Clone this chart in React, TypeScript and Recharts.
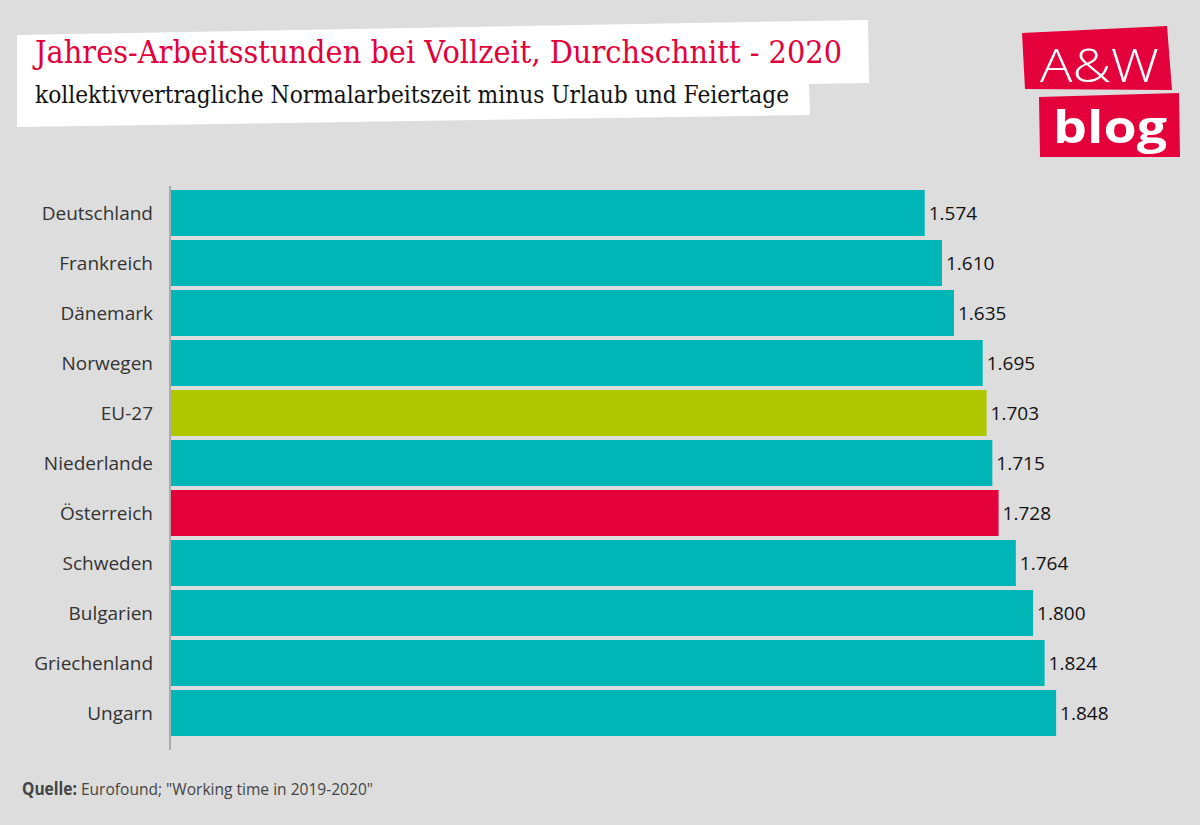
import { BarChart, Bar, XAxis, YAxis, Cell, LabelList } from 'recharts';

const countries = [
  'Deutschland',
  'Frankreich',
  'Dänemark',
  'Norwegen',
  'EU-27',
  'Niederlande',
  'Österreich',
  'Schweden',
  'Bulgarien',
  'Griechenland',
  'Ungarn',
];
const hours = [1574, 1610, 1635, 1695, 1703, 1715, 1728, 1764, 1800, 1824, 1848];
const highlight: Record<string, string> = { 'EU-27': '#adc700', 'Österreich': '#e4003b' };

const TEAL = '#00b6b6';
const RED = '#e4003b';
const BG = '#dddddd';

const title = 'Jahres-Arbeitsstunden bei Vollzeit, Durchschnitt - 2020';
const subtitle = 'kollektivvertragliche Normalarbeitszeit minus Urlaub und Feiertage';

const data = countries.map((name, i) => ({ name, value: hours[i] }));

// German thousands separator
const fmt = (v: number) => {
  const s = String(v);
  return s.length > 3 ? s.slice(0, s.length - 3) + '.' + s.slice(-3) : s;
};

export default function App() {
  return (
    <div style={{ position: 'absolute', left: 0, top: 0, width: 1200, height: 825, background: BG, overflow: 'hidden' }}>
      <BarChart
        width={1200}
        height={825}
        data={data}
        layout="vertical"
        margin={{ top: 186, right: 71, bottom: 75, left: 0 }}
        barCategoryGap={2}
      >
        <XAxis type="number" domain={[0, 2000]} hide />
        <YAxis
          type="category"
          dataKey="name"
          width={170}
          padding={{ top: 2, bottom: 12 }}
          axisLine={{ stroke: '#ababab', strokeWidth: 2 }}
          tickLine={false}
          tickSize={6}
          tickMargin={11}
          interval={0}
          tick={{ fill: '#333', fontSize: 19, fontFamily: 'Open Sans' }}
        />
        <Bar dataKey="value" isAnimationActive={false} barSize={46}>
          {data.map((d) => (
            <Cell key={d.name} fill={highlight[d.name] || TEAL} />
          ))}
          <LabelList
            dataKey="value"
            position="right"
            offset={4}
            formatter={(v: number) => fmt(v)}
            style={{ fill: '#111', fontSize: 19, fontFamily: 'Open Sans' }}
          />
        </Bar>
      </BarChart>

      <svg width={1200} height={825} style={{ position: 'absolute', left: 0, top: 0, pointerEvents: 'none' }}>
        {/* title box */}
        <polygon points="17,35 868,20 869,83 809,84 810,115 17,127" fill="#fff" />
        <text x={35} y={63} fill={RED} fontSize={32} fontFamily="DejaVu Serif" textLength={807} lengthAdjust="spacingAndGlyphs">
          {title}
        </text>
        <text x={35} y={103} fill="#111" fontSize={24} fontFamily="DejaVu Serif" textLength={754} lengthAdjust="spacingAndGlyphs">
          {subtitle}
        </text>

        {/* logo */}
        <polygon points="1022,33 1167,26 1172,90 1025,89" fill={RED} />
        <polygon points="1039,97 1179,93 1180,157 1040,157" fill={RED} />
        <text x={1040} y={82} fill="#fff" fontSize={46} fontFamily="Open Sans" fontWeight={300} textLength={119} lengthAdjust="spacingAndGlyphs">
          A&amp;W
        </text>
        <text x={1053} y={143} fill="#fff" fontSize={44} fontFamily="Open Sans" fontWeight={700} textLength={114} lengthAdjust="spacingAndGlyphs">
          blog
        </text>

        {/* source */}
        <text x={22} y={795} fill="#444" fontSize={17} fontFamily="Open Sans" textLength={351} lengthAdjust="spacingAndGlyphs">
          <tspan fontWeight={700}>Quelle:</tspan>
          <tspan> Eurofound; "Working time in 2019-2020"</tspan>
        </text>
      </svg>
    </div>
  );
}
